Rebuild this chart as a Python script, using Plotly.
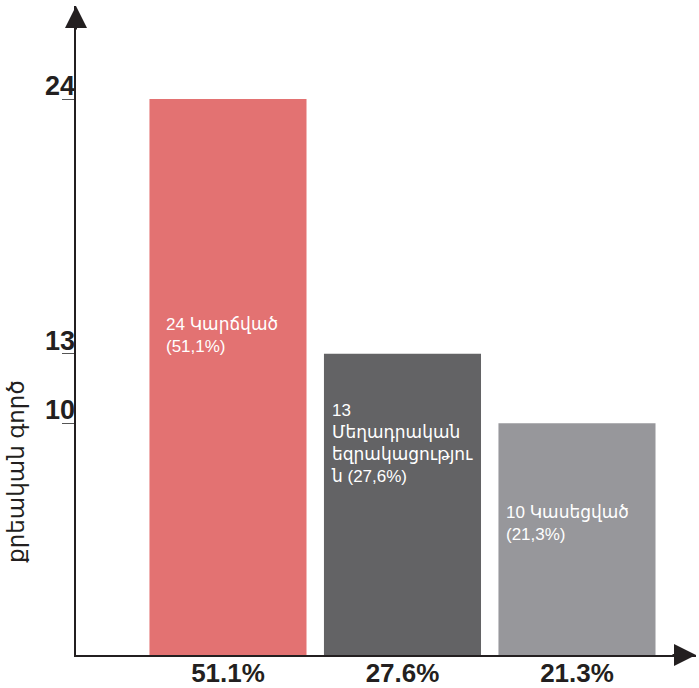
import plotly.graph_objects as go

# ---- data ----
categories = ["51.1%", "27.6%", "21.3%"]
counts = [24, 13, 10]
bar_texts = [
    "24 Կարճված<br>(51,1%)",
    "13<br>Մեղադրական<br>եզրակացությու<br>ն (27,6%)",
    "10 Կասեցված<br>(21,3%)",
]
tick_values = [10, 13, 24]
tick_labels = ["10", "13", "24"]
y_title = "քրեական գործ"

# ---- style ----
colors = ["#E37272", "#636365", "#97979B"]
label_y = [14.75, 11.05, 6.65]
label_xshift = [-64, -73, -73]
axis_color = "#231f20"
font_family = "Liberation Sans, Arial, DejaVu Sans, sans-serif"

W, H = 699, 688
L, R, T, B = 76, 3, 6, 33
plot_h = H - T - B
px_per_unit = (655 - 99) / 24.0
ymax = plot_h / px_per_unit
xmin, xmax = -0.871, -0.871 + (W - L - R) / 174.5

fig = go.Figure()
fig.add_trace(go.Bar(
    x=list(range(len(categories))),
    y=counts,
    marker=dict(color=colors, line=dict(width=0)),
    width=0.9,
    hoverinfo="skip",
))

annotations = []
for i, t in enumerate(bar_texts):
    annotations.append(dict(
        x=i, y=label_y[i], xref="x", yref="y", text=t, showarrow=False,
        xanchor="left", yanchor="top", align="left", xshift=label_xshift[i],
        font=dict(family=font_family, size=17, color="white"),
    ))

# tick labels above tick marks
for v, lab in zip(tick_values, tick_labels):
    annotations.append(dict(
        x=0, y=v, xref="paper", yref="y", text="<b>%s</b>" % lab, showarrow=False,
        xanchor="right", yanchor="bottom", xshift=1, yshift=-4,
        font=dict(family=font_family, size=27, color="#231f20"),
    ))

# y title
annotations.append(dict(
    x=0, y=7.9, xref="paper", yref="y", text=y_title, showarrow=False,
    textangle=-90, xanchor="center", yanchor="middle", xshift=-60,
    font=dict(family=font_family, size=23, color="#231f20"),
))

# arrows
annotations.append(dict(
    x=0, y=1, xref="paper", yref="paper", ax=0, ay=25, axref="pixel", ayref="pixel",
    text="", showarrow=True, arrowhead=2, arrowsize=2.2, arrowwidth=2,
    arrowcolor=axis_color, standoff=0,
))
annotations.append(dict(
    x=1, y=0, xref="paper", yref="y", ax=-25, ay=0, axref="pixel", ayref="pixel",
    text="", showarrow=True, arrowhead=2, arrowsize=2.2, arrowwidth=2,
    arrowcolor=axis_color, standoff=0,
))

fig.update_layout(
    width=W, height=H,
    margin=dict(l=L, r=R, t=T, b=B, pad=0, autoexpand=False),
    paper_bgcolor="white", plot_bgcolor="white",
    showlegend=False,
    annotations=annotations,
    xaxis=dict(
        range=[xmin, xmax], tickvals=list(range(len(categories))),
        ticktext=["<b>%s</b>" % c for c in categories],
        tickfont=dict(family=font_family, size=26, color="#231f20"),
        ticklabelstandoff=-6,
        showline=True, linecolor=axis_color, linewidth=2,
        showgrid=False, zeroline=False, ticks="", fixedrange=True,
        automargin=False,
    ),
    yaxis=dict(
        range=[0, ymax], tickvals=tick_values, showticklabels=False,
        ticks="outside", ticklen=12, tickwidth=1, tickcolor="#555555",
        showline=True, linecolor=axis_color, linewidth=2,
        showgrid=False, zeroline=False, fixedrange=True,
        automargin=False,
    ),
)

fig.write_html(
    "out.html",
    config={"displayModeBar": False},
    post_script="document.body.style.margin='0';document.body.style.padding='0';document.body.style.overflow='hidden';",
)
